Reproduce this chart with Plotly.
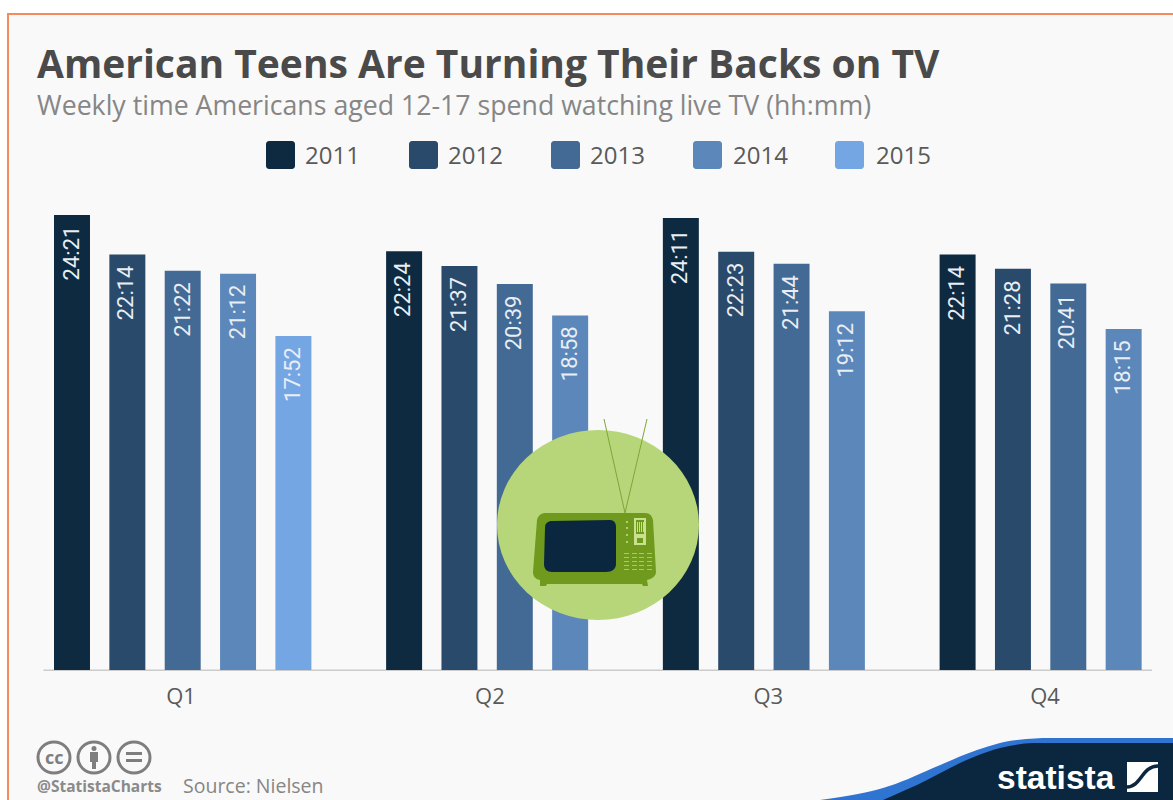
import plotly.graph_objects as go

W, H = 1173, 800

quarters = ["Q1", "Q2", "Q3", "Q4"]
years = ["2011", "2012", "2013", "2014", "2015"]
watch_2011 = ["24:21", "22:24", "24:11", "22:14"]
watch_2012 = ["22:14", "21:37", "22:23", "21:28"]
watch_2013 = ["21:22", "20:39", "21:44", "20:41"]
watch_2014 = ["21:12", "18:58", "19:12", "18:15"]
watch_2015 = ["17:52", None, None, None]
series = [watch_2011, watch_2012, watch_2013, watch_2014, watch_2015]
colors = ["#0E2A40", "#2A4A6B", "#436A94", "#5C87BB", "#74A6E4"]
quarter_label_shift = [-0.03, 0.05, 0.08, 0.08]

INK_TITLE = "#4A4A4A"
INK_SUB = "#868686"
INK_TEXT = "#5A5A5A"
INK_LOGO = "#8A8A8A"
PAPER = "#F9F9F9"
NAVY = "#0B2740"
FONT = "Open Sans"

SLOT_PX, FIRST_PX = 55.35, 72
BASE_PX, HOUR_PX = 670, 18.69


def hours(stamp):
    h, m = stamp.split(":")
    return int(h) + int(m) / 60


# Bars sit on a running slot number; each quarter is followed by one empty slot.
slots = {year: [] for year in years}
ticks = []
cursor = 0
for q in range(len(quarters)):
    used = []
    for year, values in zip(years, series):
        if values[q] is not None:
            slots[year].append(cursor)
            used.append(cursor)
            cursor += 1
        else:
            slots[year].append(None)
    ticks.append(sum(used) / len(used) + quarter_label_shift[q])
    cursor += 1

fig = go.Figure()
value_labels = []
for year, values, color in zip(years, series, colors):
    fig.add_bar(
        x=slots[year],
        y=[hours(v) if v else None for v in values],
        name=year,
        marker=dict(color=color, line_width=0),
        width=0.65,
    )
    for slot, value in zip(slots[year], values):
        if value is not None:
            value_labels.append(dict(
                xref="x", yref="y", x=slot, y=hours(value), text=value,
                textangle=-90, showarrow=False, xanchor="center", yanchor="top",
                xshift=-1, yshift=-10, borderpad=0,
                font=dict(family="Roboto", size=22, color="#E8EEF4"),
            ))


# Layout helpers: page pixels (origin top-left) to paper coordinates.
def px(x):
    return x / W


def py(y):
    return 1 - y / H


def pt(p):
    return f"{px(p[0]):.5f},{py(p[1]):.5f}"


def path(points, close=True):
    d = "M " + " L ".join(pt(p) for p in points)
    return d + (" Z" if close else "")


def curve(start, segments, close=True):
    # Each segment is one point (straight) or three points (cubic).
    d = "M " + pt(start)
    for seg in segments:
        d += (" L " if len(seg) == 1 else " C ") + " ".join(pt(p) for p in seg)
    return d + (" Z" if close else "")


shapes = []


def add_path(d, fill=None, line=None, width=0):
    shapes.append(dict(type="path", xref="paper", yref="paper", path=d,
                       fillcolor=fill or "rgba(0,0,0,0)",
                       line=dict(color=line or "rgba(0,0,0,0)", width=width)))


def rect(x0, y0, x1, y1, fill):
    shapes.append(dict(type="rect", xref="paper", yref="paper", x0=px(x0), x1=px(x1),
                       y0=py(y0), y1=py(y1), fillcolor=fill, line_width=0))


def oval(x0, y0, x1, y1, fill, line=None, width=0):
    shapes.append(dict(type="circle", xref="paper", yref="paper", x0=px(x0), x1=px(x1),
                       y0=py(y0), y1=py(y1), fillcolor=fill,
                       line=dict(color=line or "rgba(0,0,0,0)", width=width)))


def rounded(x0, y0, x1, y1, r, fill):
    k = r * 0.45
    add_path(curve((x0 + r, y0), [
        [(x1 - r, y0)], [(x1 - k, y0), (x1, y0 + k), (x1, y0 + r)],
        [(x1, y1 - r)], [(x1, y1 - k), (x1 - k, y1), (x1 - r, y1)],
        [(x0 + r, y1)], [(x0 + k, y1), (x0, y1 - k), (x0, y1 - r)],
        [(x0, y0 + r)], [(x0, y0 + k), (x0 + k, y0), (x0 + r, y0)],
    ]), fill)


# Frame and baseline stay behind the bars
rect(8, 14, W, H, PAPER)
rect(7, 13, 9, H, "#F58A5C")
rect(7, 13, W, 15, "#F58A5C")
rect(43.5, 669.5, 1152, 671, "#CCCCCC")
BEHIND = len(shapes)

# Legend swatches
legend_x = [266, 409, 551, 693, 835]
legend_text_x = [303, 446, 588, 731, 874]
for x, color in zip(legend_x, colors):
    rounded(x, 141, x + 29, 169, 3, color)

# Television badge
LEAF = "#B7D67A"
MOSS = "#6F9A1E"
oval(497, 430, 699, 620, LEAF)
add_path(path([(604, 419), (625, 513), (647, 419)], close=False), line="#7FA536", width=1)
add_path(curve((545, 513), [
    [(645, 513)], [(650, 513), (652, 516), (653, 520)], [(656, 572)],
    [(656, 576), (652, 579), (647, 580)], [(648, 586)], [(643, 586)], [(642, 584)],
    [(547, 584)], [(546, 586)], [(540, 586)], [(540, 580)],
    [(535, 579), (533, 576), (533, 572)], [(537, 520)], [(538, 516), (541, 513), (545, 513)],
]), MOSS)
add_path(curve((552, 521), [
    [(610, 520)], [(614, 520), (616, 523), (616, 527)], [(616, 564)],
    [(616, 569), (612, 572), (606, 572)], [(552, 572)],
    [(547, 572), (544, 569), (544, 564)], [(545, 528)], [(545, 523), (548, 521), (552, 521)],
]), NAVY)
for y in (522, 528, 535, 542):
    oval(626, y - 1, 628, y + 1, "#C9E08F")
rect(634, 518, 646, 545, "#C9E08F")
rect(636, 520, 644, 534, MOSS)
for x in (637, 639, 641, 643):
    rect(x, 522, x + 1, 532, "#C9E08F")
rect(637, 538, 643, 543, MOSS)
for y in (553, 557, 561, 565, 569):
    for x in (624, 632, 639, 647):
        rect(x, y, x + 5, y + 1, "#A9CB63")

# Licence badges
BADGE = "#7E7E7E"
for x in (54, 94, 134):
    oval(x - 16, 742, x + 16, 773, "rgba(0,0,0,0)", line=BADGE, width=3)
oval(91.5, 746, 96.5, 751, BADGE)
rect(90, 752, 98, 762, BADGE)
rect(92, 762, 96, 769, BADGE)
rect(126, 752, 142, 755, BADGE)
rect(126, 759, 142, 762, BADGE)

# Publisher wave and mark
add_path(curve((820, 800), [
    [(850, 796), (870, 792), (883, 788)], [(900, 783), (915, 776), (933, 768)],
    [(950, 761), (962, 755), (977, 750)], [(992, 745), (1005, 741), (1017, 740)],
    [(1030, 738.5), (1040, 738), (1050, 738)], [(W, 738)], [(W, 800)],
]), "#2F74D0")
add_path(curve((883, 800), [
    [(895, 795), (905, 790), (917, 785)], [(932, 778), (945, 770), (960, 763)],
    [(973, 757), (985, 752), (1000, 748)], [(1012, 745), (1022, 743.5), (1033, 743)],
    [(W, 743)], [(W, 800)],
]), NAVY)
rect(1127, 762, 1158, 792, "#FFFFFF")
add_path(curve((1127, 787), [[(1141, 787), (1142, 766), (1158, 766)]], close=False), line=NAVY, width=3.5)


def label(x, y, text, size, color, bold=False, family=FONT, anchor="left"):
    return dict(xref="paper", yref="paper", x=px(x), y=py(y), text=f"<b>{text}</b>" if bold else text,
                showarrow=False, xanchor=anchor, yanchor="middle",
                font=dict(family=family, size=size, color=color))


annotations = [
    label(35, 63, "American Teens Are Turning Their Backs on TV", 39, INK_TITLE, bold=True),
    label(35, 104, "Weekly time Americans aged 12-17 spend watching live TV (hh:mm)", 26.7, INK_SUB),
    label(35, 786, "@StatistaCharts", 15.5, INK_LOGO, bold=True),
    label(181, 785, "Source: Nielsen", 19.5, INK_SUB),
    label(54, 757, "cc", 18, BADGE, bold=True, anchor="center"),
    label(995, 777, "statista", 33.5, "#FFFFFF", bold=True, family="Liberation Sans"),
]
for x, year in zip(legend_text_x, years):
    annotations.append(label(x, 155, year, 24, INK_TEXT))

fig.update_layout(
    width=W,
    height=H,
    margin=dict(l=0, r=0, t=0, b=0),
    paper_bgcolor="#FFFFFF",
    plot_bgcolor="rgba(0,0,0,0)",
    showlegend=False,
    barmode="overlay",
    shapes=shapes,
    annotations=annotations + value_labels,
    xaxis=dict(
        domain=[0, 1],
        range=[-FIRST_PX / SLOT_PX, (W - FIRST_PX) / SLOT_PX],
        tickmode="array",
        tickvals=ticks,
        ticktext=quarters,
        tickfont=dict(family=FONT, size=22, color=INK_TEXT),
        ticks="outside",
        ticklen=7,
        tickcolor="rgba(0,0,0,0)",
        showgrid=False,
        zeroline=False,
        showline=False,
        automargin=False,
    ),
    yaxis=dict(
        domain=[(H - BASE_PX) / H, 1],
        range=[0, BASE_PX / HOUR_PX],
        visible=False,
        automargin=False,
    ),
)
for i, shape in enumerate(fig.layout.shapes):
    shape.layer = "below" if i < BEHIND else "above"

fig.write_html("out.html")
